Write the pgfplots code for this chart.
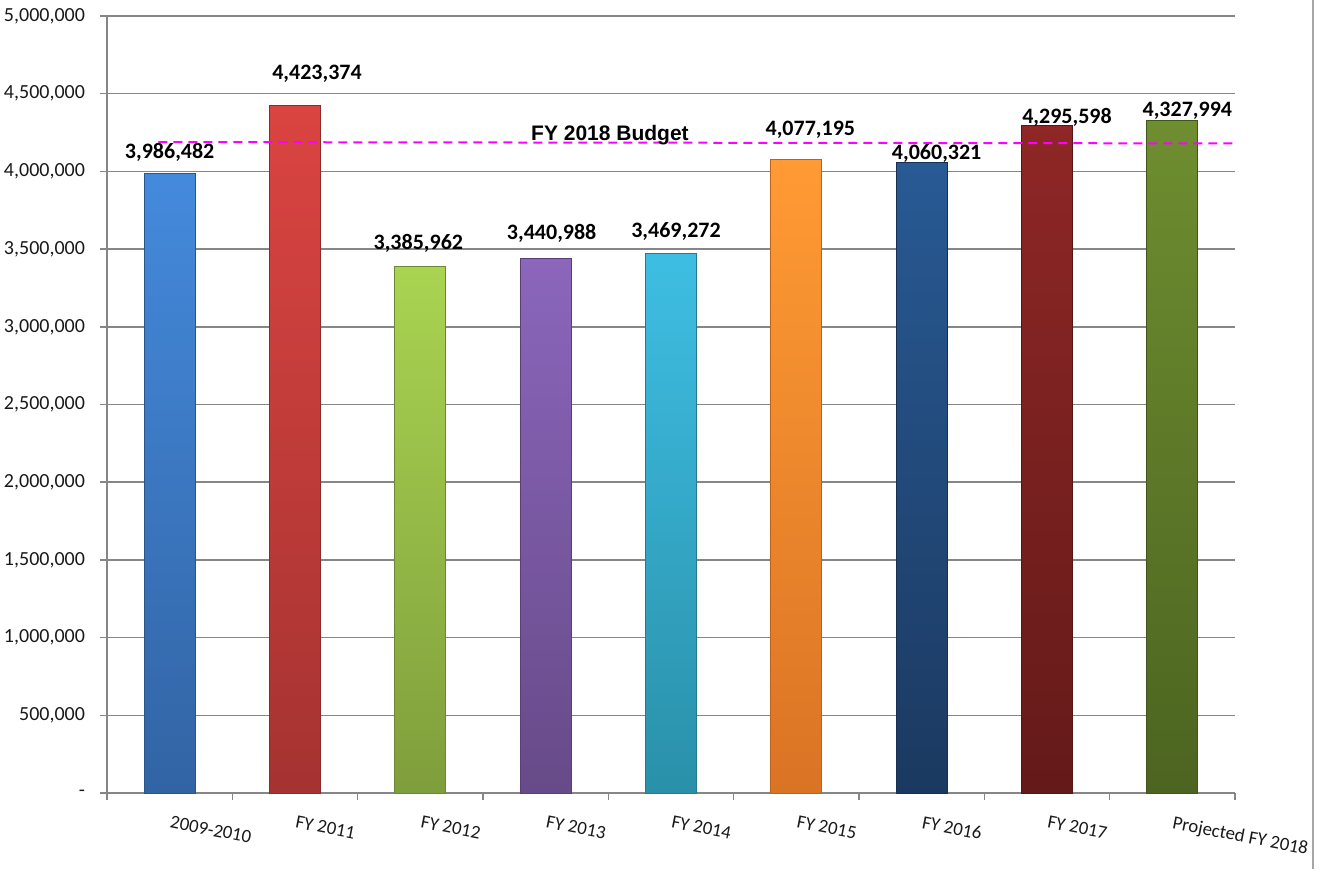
\documentclass[border=0pt]{standalone}
\usepackage{fontspec}
\setmainfont{Carlito}
\newfontfamily\arialb{Liberation Sans}
\usepackage{pgfplots}
\pgfplotsset{compat=1.18}

% bar colours, light top / dark bottom
\definecolor{b1t}{HTML}{448ADC}\definecolor{b1b}{HTML}{3264A4}
\definecolor{b2t}{HTML}{DA4441}\definecolor{b2b}{HTML}{A53331}
\definecolor{b3t}{HTML}{A9D451}\definecolor{b3b}{HTML}{7F9E3C}
\definecolor{b4t}{HTML}{8B66BC}\definecolor{b4b}{HTML}{674A88}
\definecolor{b5t}{HTML}{3EBEE3}\definecolor{b5b}{HTML}{2A90A9}
\definecolor{b6t}{HTML}{FF9A34}\definecolor{b6b}{HTML}{DA7425}
\definecolor{b7t}{HTML}{285A94}\definecolor{b7b}{HTML}{1B3960}
\definecolor{b8t}{HTML}{8E2726}\definecolor{b8b}{HTML}{641A19}
\definecolor{b9t}{HTML}{6E8E30}\definecolor{b9b}{HTML}{4C6420}
\definecolor{gridgray}{HTML}{868686}
\definecolor{budget}{HTML}{FF00FF}

\pgfplotsset{
  barc/.style n args={4}{top color=#1, bottom color=#2, draw=#2!85!black, line width=0.4pt,
    bar shift=0pt, point meta=explicit symbolic, nodes near coords,
    every node near coord/.append style={font=\bfseries\fontsize{11}{13}\selectfont,
      anchor=center, xshift=#3pt, yshift=#4pt}},
}

\begin{document}
\begin{tikzpicture}
\useasboundingbox (0,0) rectangle (661.5pt,434.5pt);
\begin{axis}[
  at={(53.5pt,38pt)}, anchor=south west,
  scale only axis, width=564pt, height=388.5pt,
  ybar, bar width=25.5pt,
  xmin=-0.5, xmax=8.5, ymin=0, ymax=5000000,
  axis lines=left, axis line style={-, gridgray, line width=0.75pt},
  ytick={0,500000,...,5000000},
  yticklabels={{-},{500,000},{1,000,000},{1,500,000},{2,000,000},{2,500,000},{3,000,000},{3,500,000},{4,000,000},{4,500,000},{5,000,000}},
  ymajorgrids, grid style={gridgray, line width=0.75pt},
  major tick length=3.5pt, minor tick length=3.5pt,
  tick style={gridgray, line width=0.75pt},
  ytick align=outside, xtick align=outside,
  xtick={0,...,8},
  xticklabels={2009-2010, FY 2011, FY 2012, FY 2013, FY 2014, FY 2015, FY 2016, FY 2017, Projected FY 2018},
  major x tick style={draw=none},
  minor xtick={-0.5,0.5,...,8.5},
  yticklabel style={font=\fontsize{10}{12}\selectfont, color=black!90, xshift=-4pt, inner ysep=0pt},
  xticklabel style={font=\fontsize{9.4}{11}\selectfont, color=black!90, rotate=-11, anchor=north west, xshift=-1pt, yshift=-4pt},
  clip=false,
]
\addplot[barc={b1t}{b1b}{0}{10.75}] coordinates {(0,3986482) [3,986,482]};
\addplot[barc={b2t}{b2b}{11}{15.8}] coordinates {(1,4423374) [4,423,374]};
\addplot[barc={b3t}{b3b}{-1}{11.9}] coordinates {(2,3385962) [3,385,962]};
\addplot[barc={b4t}{b4b}{3}{12.6}] coordinates {(3,3440988) [3,440,988]};
\addplot[barc={b5t}{b5b}{2.5}{11}] coordinates {(4,3469272) [3,469,272]};
\addplot[barc={b6t}{b6b}{7}{14.7}] coordinates {(5,4077195) [4,077,195]};
\addplot[barc={b7t}{b7b}{7.5}{4.5}] coordinates {(6,4060321) [4,060,321]};
\addplot[barc={b8t}{b8b}{10}{4.25}] coordinates {(7,4295598) [4,295,598]};
\addplot[barc={b9t}{b9b}{7.5}{4.7}] coordinates {(8,4327994) [4,327,994]};
% FY 2018 budget reference line
\addplot[sharp plot, budget, line width=1pt, dash pattern=on 4.5pt off 3pt, bar shift=0pt]
  coordinates {(-0.09,4189000) (8.52,4180000)};
\node[font=\arialb\bfseries\fontsize{10.5}{12}\selectfont, anchor=base] at (axis cs:3.513,4196000) {FY 2018 Budget};
\end{axis}
\draw[gray!70, line width=1pt] (656.5pt,0) -- (656.5pt,434.5pt);
\end{tikzpicture}
\end{document}
